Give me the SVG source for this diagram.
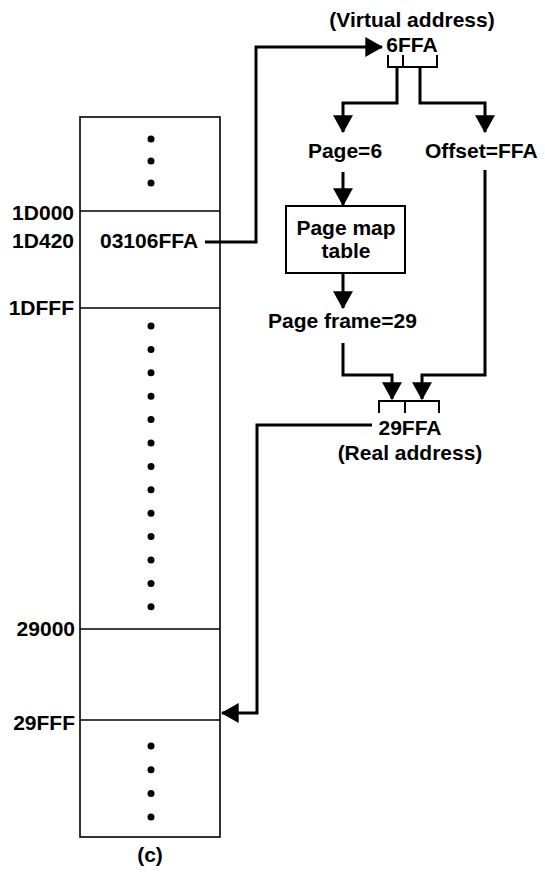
<svg xmlns="http://www.w3.org/2000/svg" width="545" height="872" viewBox="0 0 545 872">
<style>
text{font-family:"Liberation Sans",Arial,sans-serif;font-size:21px;font-weight:bold;fill:#000}
.m{text-anchor:middle}.e{text-anchor:end}
.thin{fill:none;stroke:#000;stroke-width:1.6}
.conn{fill:none;stroke:#000;stroke-width:3;stroke-linejoin:miter}
.br{fill:none;stroke:#000;stroke-width:2}
.dot{fill:#000}
</style>
<defs>
<marker id="ah" markerUnits="userSpaceOnUse" markerWidth="18" markerHeight="20" viewBox="0 0 16 18" refX="15" refY="9" orient="auto">
<path d="M0,0 L16,9 L0,18 z" fill="#000"/>
</marker>
</defs>
<rect width="545" height="872" fill="#fff"/>
<g id="memory">
<rect class="thin" x="80" y="117" width="140" height="720"/>
<line class="thin" x1="80" y1="211" x2="220" y2="211"/>
<line class="thin" x1="80" y1="308" x2="220" y2="308"/>
<line class="thin" x1="80" y1="629" x2="220" y2="629"/>
<line class="thin" x1="80" y1="720" x2="220" y2="720"/>
<g class="dot">
<circle cx="151" cy="139" r="3.5"/><circle cx="151" cy="161" r="3.5"/><circle cx="151" cy="183" r="3.5"/>
<circle cx="151" cy="326" r="3.5"/><circle cx="151" cy="349.4" r="3.5"/><circle cx="151" cy="372.8" r="3.5"/><circle cx="151" cy="396.2" r="3.5"/><circle cx="151" cy="419.6" r="3.5"/><circle cx="151" cy="443" r="3.5"/><circle cx="151" cy="466.4" r="3.5"/><circle cx="151" cy="489.8" r="3.5"/><circle cx="151" cy="513.2" r="3.5"/><circle cx="151" cy="536.6" r="3.5"/><circle cx="151" cy="560" r="3.5"/><circle cx="151" cy="583.4" r="3.5"/><circle cx="151" cy="606.8" r="3.5"/>
<circle cx="151" cy="746" r="3.5"/><circle cx="151" cy="769.7" r="3.5"/><circle cx="151" cy="793.4" r="3.5"/><circle cx="151" cy="817" r="3.5"/>
</g>
<text class="e" x="74" y="220">1D000</text>
<text class="e" x="74" y="248">1D420</text>
<text class="e" x="74" y="315">1DFFF</text>
<text class="e" x="75" y="636">29000</text>
<text class="e" x="75" y="730">29FFF</text>
<text x="100" y="248">03106FFA</text>
<text class="m" x="150" y="862">(c)</text>
</g>
<g id="virtual">
<text class="m" x="412" y="27">(Virtual address)</text>
<text class="m" x="412" y="52">6FFA</text>
<path class="br" d="M388,55 V67 H437 V55 M403,55 V67"/>
</g>
<g id="page">
<text class="m" x="345" y="158">Page=6</text>
</g>
<g id="offset">
<text x="425" y="158">Offset=FFA</text>
</g>
<g id="pmt">
<rect x="286" y="206" width="119" height="67" fill="#fff" stroke="#000" stroke-width="2"/>
<text class="m" x="346" y="235">Page map</text>
<text class="m" x="346" y="258">table</text>
</g>
<g id="frame">
<text x="268" y="328">Page frame=29</text>
</g>
<g id="real">
<path class="br" d="M379,413 V401 H439 V413 M405,401 V413"/>
<text class="m" x="410" y="435">29FFA</text>
<text class="m" x="410" y="460">(Real address)</text>
</g>
<g id="connectors">
<path class="conn" d="M205,242 H256 V47 H382" marker-end="url(#ah)"/>
<path class="conn" d="M397,67 V103 H343 V132" marker-end="url(#ah)"/>
<path class="conn" d="M420,67 V103 H485 V132" marker-end="url(#ah)"/>
<path class="conn" d="M343,172 V205" marker-end="url(#ah)"/>
<path class="conn" d="M343,273 V308" marker-end="url(#ah)"/>
<path class="conn" d="M343,343 V375 H392 V399" marker-end="url(#ah)"/>
<path class="conn" d="M485,170 V375 H422 V399" marker-end="url(#ah)"/>
<path class="conn" d="M372,425 H257 V713 H222" marker-end="url(#ah)"/>
</g>
</svg>
